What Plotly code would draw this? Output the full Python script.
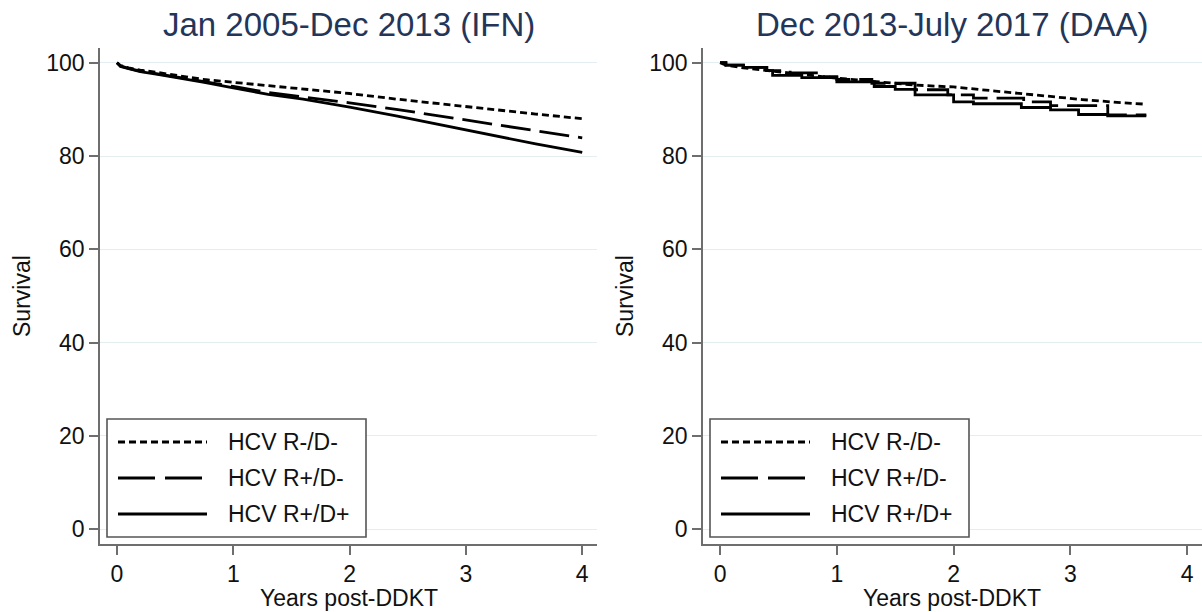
import plotly.graph_objects as go

# ---------------- data ----------------
series_names = ["HCV R-/D-", "HCV R+/D-", "HCV R+/D+"]

# Left panel: Jan 2005-Dec 2013 (IFN)
ifn_years = [0, 0.03, 0.1, 0.2, 0.35, 0.5, 0.75, 1.0, 1.3, 1.6, 2.0, 2.4, 2.8, 3.2, 3.6, 4.0]
ifn_rneg_dneg = [100, 99.4, 98.9, 98.4, 97.9, 97.3, 96.4, 95.8, 95.1, 94.4, 93.4, 92.2, 91.1, 90.0, 89.0, 88.0]
ifn_rpos_dneg = [100, 99.3, 98.8, 98.2, 97.6, 97.0, 95.9, 94.9, 93.6, 92.7, 91.4, 90.0, 88.5, 87.0, 85.4, 83.9]
ifn_rpos_dpos = [100, 99.2, 98.7, 98.1, 97.5, 96.9, 95.8, 94.6, 93.2, 92.2, 90.5, 88.6, 86.6, 84.6, 82.6, 80.8]

# Right panel: Dec 2013-July 2017 (DAA)
daa_x_rneg_dneg = [0, 0.05, 0.2, 0.4, 0.7, 1.0, 1.3, 1.67, 2.0, 2.4, 2.75, 3.1, 3.4, 3.65]
daa_rneg_dneg = [100, 99.5, 98.9, 98.3, 97.5, 96.7, 96.0, 95.2, 94.8, 93.8, 92.9, 92.1, 91.5, 91.1]

daa_x_rpos_dneg = [0, 0.05, 0.2, 0.4, 0.6, 0.85, 1.0, 1.3, 1.67, 1.95, 2.17, 2.6, 2.83, 3.32, 3.65]
daa_rpos_dneg = [100, 99.5, 99.0, 98.3, 97.8, 97.0, 96.4, 95.6, 94.2, 93.1, 92.4, 91.6, 90.8, 88.8, 88.8]

daa_x_rpos_dpos = [0, 0.05, 0.2, 0.4, 0.45, 0.7, 1.0, 1.32, 1.5, 1.67, 2.0, 2.17, 2.58, 2.83, 3.07, 3.32, 3.65]
daa_rpos_dpos = [100, 99.5, 99.0, 98.3, 97.3, 96.8, 95.9, 94.9, 94.3, 93.1, 91.6, 91.2, 90.4, 89.9, 88.9, 88.6, 88.6]

panel_titles = ["Jan 2005-Dec 2013 (IFN)", "Dec 2013-July 2017 (DAA)"]
y_ticks = [0, 20, 40, 60, 80, 100]
x_ticks = [0, 1, 2, 3, 4]

# ---------------- styling ----------------
W, H = 1202, 612
FONT = "Arial, 'Liberation Sans', sans-serif"
LW = 2.8
dashes = ["7px,4px", "30px,9px", "solid"]
legend_dashes = ["7px,4px", "37px,10px", "solid"]
AXC = "#6e6e6e"
GRID = "#e4eef0"
TITLE_C = "#23365a"
TXT = 23

def px_x(p):
    return p / W

def px_y(p):
    return 1 - p / H

fig = go.Figure()

left = [(ifn_years, ifn_rneg_dneg), (ifn_years, ifn_rpos_dneg), (ifn_years, ifn_rpos_dpos)]
for (xs, ys), d, nm in zip(left, dashes, series_names):
    fig.add_trace(go.Scatter(x=xs, y=ys, mode="lines", name=nm, showlegend=False,
                             line=dict(color="black", width=LW, dash=d),
                             xaxis="x", yaxis="y"))

right = [(daa_x_rneg_dneg, daa_rneg_dneg, "linear"),
         (daa_x_rpos_dneg, daa_rpos_dneg, "hv"),
         (daa_x_rpos_dpos, daa_rpos_dpos, "hv")]
for (xs, ys, sh), d, nm in zip(right, dashes, series_names):
    fig.add_trace(go.Scatter(x=xs, y=ys, mode="lines", name=nm, showlegend=False,
                             line=dict(color="black", width=LW, dash=d, shape=sh),
                             xaxis="x2", yaxis="y2"))

xr = [-0.146, 4.127]
yr = [-3.15, 103.15]
ydom = [px_y(544), px_y(48)]

axis_common = dict(showline=True, linecolor=AXC, linewidth=1.6, ticks="outside",
                   ticklen=9, tickwidth=1.6, tickcolor=AXC, zeroline=False,
                   tickfont=dict(family=FONT, size=TXT, color="#111111"), fixedrange=True)

fig.update_layout(
    width=W, height=H, margin=dict(l=0, r=0, t=0, b=0),
    paper_bgcolor="white", plot_bgcolor="white", showlegend=False,
    xaxis=dict(domain=[px_x(100), px_x(597)], range=xr, tickvals=x_ticks,
               showgrid=False, anchor="y", **axis_common),
    yaxis=dict(domain=ydom, range=yr, tickvals=y_ticks, showgrid=True,
               gridcolor=GRID, gridwidth=1, anchor="x", **axis_common),
    xaxis2=dict(domain=[px_x(703), 1.0], range=xr, tickvals=x_ticks,
                showgrid=False, anchor="y2", **axis_common),
    yaxis2=dict(domain=ydom, range=yr, tickvals=y_ticks, showgrid=True,
                gridcolor=GRID, gridwidth=1, anchor="x2", **axis_common),
)

annotations = []
shapes = []
panels = [(100, 597), (703, 1202)]
for i, (x0, x1) in enumerate(panels):
    cx = (x0 + x1) / 2
    annotations.append(dict(text=panel_titles[i], x=px_x(cx), y=px_y(25), xref="paper", yref="paper",
                            showarrow=False, xanchor="center", yanchor="middle",
                            font=dict(family=FONT, size=33, color=TITLE_C)))
    annotations.append(dict(text="Survival", x=px_x(x0 - 78), y=px_y(296), xref="paper", yref="paper",
                            showarrow=False, textangle=-90, xanchor="center", yanchor="middle",
                            font=dict(family=FONT, size=TXT, color="#111111")))
    annotations.append(dict(text="Years post-DDKT", x=px_x(x0 + 249), y=px_y(598), xref="paper", yref="paper",
                            showarrow=False, xanchor="center", yanchor="middle",
                            font=dict(family=FONT, size=TXT, color="#111111")))
    # legend box
    bx0 = x0 + 7
    shapes.append(dict(type="rect", xref="paper", yref="paper",
                       x0=px_x(bx0), x1=px_x(bx0 + 259), y0=px_y(537), y1=px_y(419),
                       line=dict(color="#555555", width=1.6), fillcolor="white", layer="above"))
    rows = [442, 478, 514]
    for j, nm in enumerate(series_names):
        shapes.append(dict(type="line", xref="paper", yref="paper",
                           x0=px_x(bx0 + 11), x1=px_x(bx0 + 100), y0=px_y(rows[j]), y1=px_y(rows[j]),
                           line=dict(color="black", width=LW, dash=legend_dashes[j]), layer="above"))
        annotations.append(dict(text=nm, x=px_x(bx0 + 119), y=px_y(rows[j]), xref="paper", yref="paper",
                                showarrow=False, xanchor="left", yanchor="middle",
                                font=dict(family=FONT, size=TXT, color="#111111")))

fig.update_layout(annotations=annotations, shapes=shapes)
fig.write_html("out.html")
